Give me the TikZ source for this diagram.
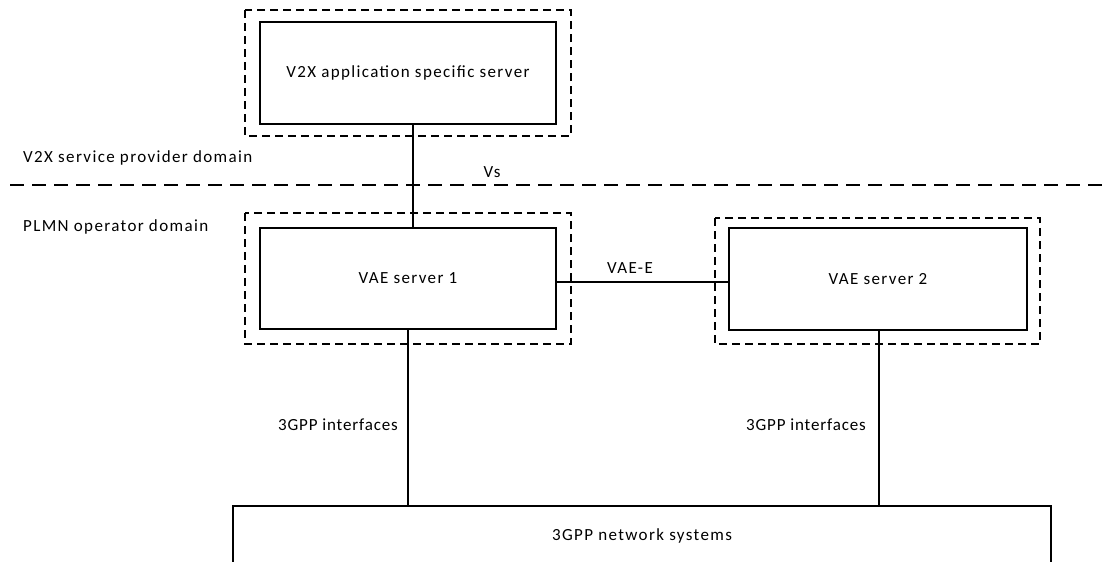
\documentclass[tikz,border=0pt]{standalone}
\usepackage{fontspec}
\setmainfont{Carlito}
\newfontfamily\lblfont[LetterSpace=8]{Carlito}
\newfontfamily\ifcfont[LetterSpace=5]{Carlito}
\begin{document}
\begin{tikzpicture}[x=1pt,y=-1pt,
  box/.style={draw,line width=1.1pt,rectangle,inner sep=0pt},
  dbox/.style={draw,line width=1.1pt,dash pattern=on 8pt off 5pt},
  lbl/.style={font=\lblfont\fontsize{17}{20}\selectfont,inner sep=0pt},
  ifc/.style={font=\ifcfont\fontsize{17}{20}\selectfont,inner sep=0pt},
  link/.style={line width=1.1pt}]
\useasboundingbox (0,0) rectangle (1103,562);
% dashed outer boxes
\draw[dbox] (245,10) rectangle (571,136);
\draw[dbox] (245,213) rectangle (571,344);
\draw[dbox] (715,218) rectangle (1040,344);
% inner boxes
\node[box,minimum width=296pt,minimum height=102pt] (app) at (408,73) {};
\node[lbl] (appt) at (app.center) {V2X application specific server};
\node[box,minimum width=296pt,minimum height=101pt] (vae1) at (408,278.5) {};
\node[lbl] (vae1t) at (vae1.center) {VAE server 1};
\node[box,minimum width=298pt,minimum height=102pt] (vae2) at (878,279) {};
\node[lbl] (vae2t) at (vae2.center) {VAE server 2};
% bottom box (cut by page)
\coordinate (nbl) at (233,570);
\coordinate (nbr) at (1051,570);
\draw[line width=1.1pt] (nbl) -- (233,506) -- (1051,506) -- (nbr);
\node[lbl] (net) at (642,536) {3GPP network systems};
% domain separator
\coordinate (sepL) at (10,185);
\coordinate (sepR) at (1103,185);
\draw[line width=1.1pt,dash pattern=on 14pt off 8pt] (sepL) -- (sepR);
\node[lbl,anchor=west] (d1) at (23,158) {V2X service provider domain};
\node[lbl,anchor=west] (d2) at (23,227) {PLMN operator domain};
% connectors
\coordinate (vsx) at (413,0);
\draw[link] (app.south -| vsx) -- (vae1.north -| vsx);
\node[lbl] (vs) at (492,172) {Vs};
\coordinate (vey) at (0,282);
\draw[link] (vae1.east |- vey) -- (vae2.west |- vey);
\node[lbl] (vaee) at (630,268) {VAE-E};
\coordinate (n1) at (408,506);
\coordinate (n2) at (879,506);
\draw[link] (vae1.south -| n1) -- (n1);
\draw[link] (vae2.south -| n2) -- (n2);
\node[ifc,anchor=east] (if1) at (398,425) {3GPP interfaces};
\node[ifc,anchor=east] (if2) at (866,425) {3GPP interfaces};
\end{tikzpicture}
\end{document}
